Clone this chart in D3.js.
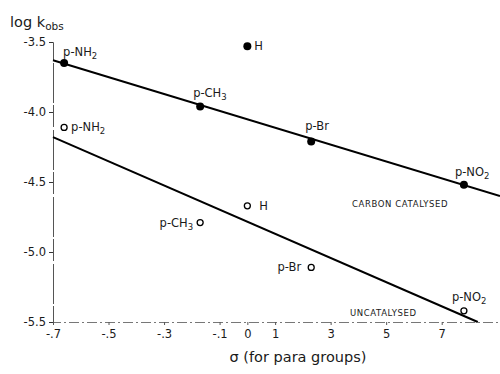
<!DOCTYPE html>
<html>
<head>
<meta charset="utf-8">
<script src="https://cdn.jsdelivr.net/npm/d3@7"></script>
<style>
  body { margin: 0; background: #fff; }
  svg text { font-family: "DejaVu Sans", "Liberation Sans", sans-serif; fill: #1a1a1a; }
</style>
</head>
<body>
<div id="chart"></div>
<script>
// substituents and their Hammett sigma values
var substituents = ["p-NH2", "p-CH3", "H", "p-Br", "p-NO2"];
var sigma = [-0.66, -0.17, 0, 0.23, 0.78];

// log k_obs
var carbonCatalysed = [-3.65, -3.96, -3.53, -4.21, -4.52];
var uncatalysed = [-4.11, -4.79, -4.67, -5.11, -5.42];

// straight lines drawn through each series (sigma, log k)
var carbonLine = [[-0.7, -3.63], [0.91, -4.60]];
var uncatLine = [[-0.7, -4.18], [0.83, -5.5]];

var xTicks = [-0.7, -0.5, -0.3, -0.1, 0, 0.1, 0.3, 0.5, 0.7];
var xTickLabels = ["-.7", "-.5", "-.3", "-.1", "0", "1", "3", "5", "7"];
var yTicks = [-3.5, -4.0, -4.5, -5.0, -5.5];
var yTickLabels = ["-3.5", "-4.0", "-4.5", "-5.0", "-5.5"];

var width = 500, height = 374;
var margin = { top: 42, right: 0, bottom: 52, left: 53 };

var svg = d3.select("#chart").append("svg")
  .attr("width", width)
  .attr("height", height);

var x = d3.scaleLinear()
  .domain([-0.7, 0.91])
  .range([margin.left, width - margin.right]);

var y = d3.scaleLinear()
  .domain([-3.5, -5.5])
  .range([margin.top, height - margin.bottom]);

// labels like p-NH2 get the trailing digit as a subscript
function chemLabel(sel, txt, subSize) {
  var m = txt.match(/^(.*?)(\d+)$/);
  if (!m) { sel.text(txt); return; }
  sel.append("tspan").text(m[1]);
  sel.append("tspan").attr("font-size", subSize).attr("dy", 3).text(m[2]);
}

// y axis
var yAxis = svg.append("g")
  .attr("transform", "translate(" + margin.left + ",0)")
  .call(d3.axisLeft(y).tickValues(yTicks).tickSize(4).tickPadding(3)
    .tickFormat(function(d, i) { return yTickLabels[i]; }));
yAxis.select(".domain").attr("stroke", "#555").attr("stroke-dasharray", "22,3,40,2");
yAxis.selectAll(".tick line").attr("stroke", "#333");
yAxis.selectAll(".tick text").attr("font-size", 11.5).attr("fill", "#1a1a1a");

// x axis
var xAxis = svg.append("g")
  .attr("transform", "translate(0," + y(-5.5) + ")")
  .call(d3.axisBottom(x).tickValues(xTicks).tickSize(3).tickPadding(5)
    .tickFormat(function(d, i) { return xTickLabels[i]; }));
xAxis.select(".domain").attr("stroke", "#777").attr("stroke-dasharray", "10,3,2,3");
xAxis.selectAll(".tick line").attr("stroke", "#555");
xAxis.selectAll(".tick text").attr("font-size", 11.5).attr("fill", "#1a1a1a");

// axis titles
var yTitle = svg.append("text")
  .attr("x", 10).attr("y", 27)
  .attr("font-size", 14.5);
yTitle.append("tspan").text("log k");
yTitle.append("tspan").attr("font-size", 10.5).attr("dy", 3).text("obs");

svg.append("text")
  .attr("x", 298).attr("y", 362)
  .attr("text-anchor", "middle")
  .attr("font-size", 14.5)
  .text("\u03c3 (for para groups)");

// fit lines
var line = d3.line()
  .x(function(d) { return x(d[0]); })
  .y(function(d) { return y(d[1]); });

svg.append("path").datum(carbonLine)
  .attr("d", line).attr("fill", "none")
  .attr("stroke", "#000").attr("stroke-width", 2);
svg.append("path").datum(uncatLine)
  .attr("d", line).attr("fill", "none")
  .attr("stroke", "#000").attr("stroke-width", 2);

// points
var catData = substituents.map(function(s, i) { return { name: s, sx: sigma[i], v: carbonCatalysed[i] }; });
var uncData = substituents.map(function(s, i) { return { name: s, sx: sigma[i], v: uncatalysed[i] }; });

svg.selectAll(".cat").data(catData).enter().append("circle")
  .attr("cx", function(d) { return x(d.sx); })
  .attr("cy", function(d) { return y(d.v); })
  .attr("r", 4).attr("fill", "#000");

svg.selectAll(".unc").data(uncData).enter().append("circle")
  .attr("cx", function(d) { return x(d.sx); })
  .attr("cy", function(d) { return y(d.v); })
  .attr("r", 3).attr("fill", "#fff")
  .attr("stroke", "#000").attr("stroke-width", 1.3);

// label placement relative to each point
var catPlace = {
  "p-NH2": [-1, -7, "start"], "p-CH3": [-7, -9, "start"], "H": [7, 4, "start"],
  "p-Br": [-6, -11, "start"], "p-NO2": [-9, -9, "start"]
};
var uncPlace = {
  "p-NH2": [7, 4, "start"], "p-CH3": [-7, 4, "end"], "H": [12, 4, "start"],
  "p-Br": [-10, 4, "end"], "p-NO2": [-12, -10, "start"]
};

function addLabels(data, place) {
  data.forEach(function(d) {
    var p = place[d.name];
    var t = svg.append("text")
      .attr("x", x(d.sx) + p[0])
      .attr("y", y(d.v) + p[1])
      .attr("text-anchor", p[2])
      .attr("font-size", 11.5);
    chemLabel(t, d.name, 8.5);
  });
}
addLabels(catData, catPlace);
addLabels(uncData, uncPlace);

// series captions
svg.append("text")
  .attr("x", 352).attr("y", 207)
  .attr("font-size", 8.5).attr("letter-spacing", 0.6)
  .attr("fill", "#444")
  .text("CARBON CATALYSED");

svg.append("text")
  .attr("x", 350).attr("y", 316)
  .attr("font-size", 8.5).attr("letter-spacing", 0.6)
  .attr("fill", "#444")
  .text("UNCATALYSED");
</script>
</body>
</html>
